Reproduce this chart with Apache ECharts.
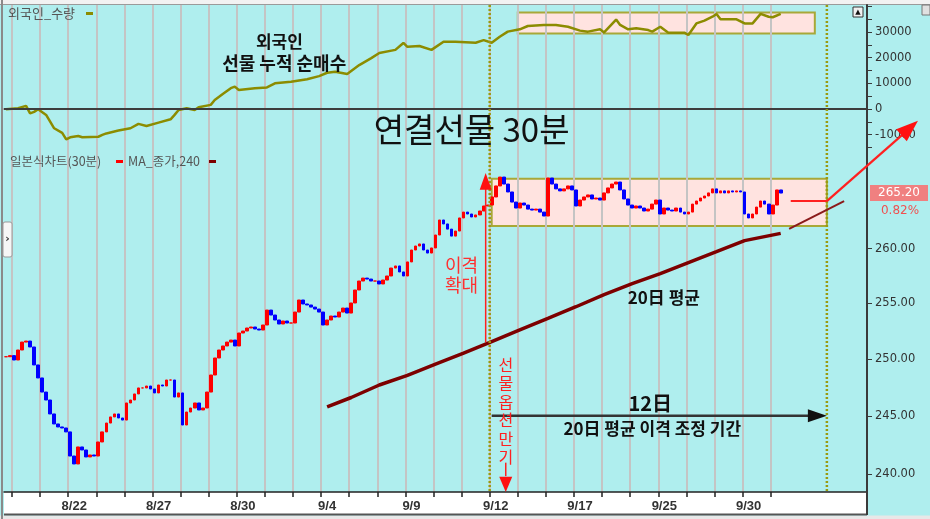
<!DOCTYPE html>
<html><head><meta charset="utf-8">
<script src="https://cdn.jsdelivr.net/npm/echarts/dist/echarts.min.js"></script>
<style>html,body{margin:0;padding:0;background:#afeeee}#c{width:930px;height:519px}</style>
</head><body><div id="c"></div>
<script>
// ---------- DATA ----------
const dayNames = ['8/19','8/20','8/21','8/22','8/23','8/26','8/27','8/28','8/29','8/30','9/2','9/3','9/4','9/5','9/6','9/9','9/10','9/11','9/12','9/13','9/16','9/17','9/18','9/19','9/25','9/26','9/27','9/30','10/1'];
const labeledDays = ['8/22','8/27','8/30','9/4','9/9','9/12','9/17','9/25','9/30'];
// 30-minute closes, grouped by day
const dayCloses = [
 [250.2,250.3],
 [249.91,250.80,251.51,251.60,251.07,249.47,248.32],
 [247.08,246.38,245.16,244.29,244.03,243.94,243.60],
 [241.52,240.84,242.30,242.04,241.44,241.61,241.52],
 [242.73,243.60,244.37,244.90,245.16,244.81,244.63],
 [246.12,246.38,246.91,247.44,247.44,247.61,247.35],
 [247.00,247.70,247.61,248.14,248.14,246.64,247.00],
 [244.20,245.33,245.68,246.12,245.51,245.68,247.08],
 [248.58,250.09,250.80,251.16,251.51,251.69,251.16],
 [252.32,252.50,252.77,252.86,252.68,252.59,253.04],
 [254.39,253.94,253.49,253.13,253.40,253.22,253.22],
 [254.21,255.30,254.94,254.85,254.66,254.48,254.21],
 [253.04,253.49,253.85,253.76,254.21,254.57,254.12],
 [255.03,256.21,257.03,257.30,257.21,257.03,257.03],
 [256.76,257.12,257.49,258.22,258.41,257.86,257.49],
 [258.78,259.88,260.25,260.44,259.88,259.60,260.07],
 [261.27,262.67,262.30,261.82,261.17,261.64,262.86],
 [263.41,263.23,262.95,263.14,263.51,263.98,264.07],
 [264.83,265.87,266.71,266.05,265.30,264.35,263.79],
 [264.26,264.07,263.69,263.60,263.69,263.41,263.04],
 [266.62,266.05,265.59,265.40,265.59,265.87,265.49],
 [263.98,264.54,264.83,265.02,264.64,264.73,264.54],
 [265.21,265.68,266.05,266.24,265.49,264.64,264.07],
 [263.79,263.98,263.79,263.51,263.69,264.16,264.54],
 [263.23,263.79,263.60,263.51,263.79,263.41,263.23],
 [263.41,264.16,264.45,264.73,264.92,265.21,265.59],
 [265.21,265.40,265.21,265.40,265.30,265.40,265.30],
 [263.23,262.86,263.23,263.88,264.45,264.16,263.23],
 [264.07,265.49,265.20]
];
const futureSlots = 17;
// MA_종가,240 (bar index, value)
const maBars   = [80,86,93,100,107,114,121,128,135,142,149,156,163,170,177,184,193];
const maValues = [245.77,246.60,247.70,248.55,249.54,250.52,251.55,252.61,253.64,254.69,255.78,256.79,257.71,258.72,259.73,260.75,261.42];
// 외국인 수량 (bar index, cumulative net)
const foreignBars = [0,3,5,6,7,8,10,12,14,15,16,18,19,23,24,25,28,31,33,35,38,41,42,43,45,47,48,51,52,54,56,57,58,62,65,67,71,75,78,80,82,85,88,91,93,97,99,100,103,106,109,112,117,119,121,123,125,128,130,134,137,140,143,145,148,149,152,153,155,157,160,161,163,165,169,170,172,174,176,177,178,182,184,186,188,190,191,193];
const foreignNet = [-100,300,1200,-1700,-1100,-100,-2300,-7500,-9300,-11800,-11000,-10500,-11000,-10800,-10100,-9500,-8400,-7500,-5800,-6600,-5300,-4000,-2300,-400,300,-400,700,1600,3500,5800,8100,8700,7400,8100,8400,10000,10600,11600,12800,14100,14500,13600,17100,19800,21800,23000,25700,24200,24500,23000,26200,26200,25800,26800,25800,28100,30100,31000,32300,32700,32700,32000,30500,30100,31000,29800,34800,32700,31000,31400,30700,30100,32000,29700,29700,28800,33300,34400,35900,37000,34900,34900,33300,33300,37000,35900,35700,37000];
const priceTicks = [240,245,250,255,260];
const foreignTicks = [-10000,0,10000,20000,30000];
const foreignMinorTicks = [-15000,-10000,-5000,0,5000,10000,15000,20000,25000,30000,35000,40000];
const lastPrice = 265.20, changeText = '0.82%';

// ---------- BUILD ----------
const categories = [], dayStart = [];
dayNames.forEach((n, d) => { dayStart.push(categories.length); const cnt = d === 0 ? 2 : 7; for (let b = 0; b < cnt; b++) categories.push(n + ' ' + (b + 1)); });
for (let k = 0; k < futureSlots; k++) categories.push('~ ' + (k + 1));
const boundaryOf = d => d === 0 ? 0 : 2 + 7 * (d - 1);
const tickSet = new Set(); for (let d = 1; d < dayNames.length; d++) tickSet.add(dayStart[d]);
const labelSet = new Set(); labeledDays.forEach(n => labelSet.add(dayStart[dayNames.indexOf(n)] + 1));
const closes = dayCloses.flat();
const candles = closes.map((c, i) => { const o = i ? closes[i - 1] : c; return [o, c, Math.min(o, c), Math.max(o, c)]; });

const Y0MIN = -15953, Y0MAX = 40467, Y1MIN = 238.45, Y1MAX = 269.29;
const AX = '#3a3a3a';
const splitL = { show: true, interval: (i) => tickSet.has(i), lineStyle: { color: '#c4c4c4', width: 2 } };

const chart = echarts.init(document.getElementById('c'));
chart.setOption({
  animation: false,
  backgroundColor: '#afeeee',
  grid: [
    { left: 4, right: 63, top: 5, height: 145 },
    { left: 4, right: 63, top: 150, height: 342 }
  ],
  xAxis: [
    { type: 'category', gridIndex: 0, data: categories, boundaryGap: true, z: 1,
      axisLine: { lineStyle: { color: '#a2a2a2', width: 2 } }, axisTick: { show: false }, axisLabel: { show: false }, splitLine: splitL },
    { type: 'category', gridIndex: 1, data: categories, boundaryGap: true, z: 1,
      axisLine: { lineStyle: { color: '#222', width: 1.5 } },
      axisTick: { show: true, interval: (i) => tickSet.has(i), length: 5, lineStyle: { color: '#222', width: 1.5 } },
      axisLabel: { interval: (i) => labelSet.has(i), formatter: v => v.split(' ')[0], color: '#333', fontSize: 13, fontWeight: 'bold', fontFamily: 'Liberation Sans', margin: 8 },
      splitLine: splitL }
  ],
  yAxis: [
    { type: 'value', gridIndex: 0, position: 'right', min: Y0MIN, max: Y0MAX, z: 1,
      axisLine: { show: true, lineStyle: { color: AX, width: 2 } },
      axisTick: { show: true, customValues: foreignMinorTicks, length: 5, lineStyle: { color: AX } },
      axisLabel: { customValues: foreignTicks, formatter: v => String(Math.round(v)), color: '#333', fontSize: 11.5, fontFamily: 'DejaVu Sans', margin: 8 },
      splitLine: { show: false } },
    { type: 'log', gridIndex: 1, position: 'right', min: Y1MIN, max: Y1MAX, z: 1,
      axisLine: { show: true, lineStyle: { color: AX, width: 2 } },
      axisTick: { show: true, customValues: priceTicks, length: 5, lineStyle: { color: AX } },
      axisLabel: { customValues: priceTicks, formatter: v => Number(v).toFixed(2), color: '#333', fontSize: 11.5, fontFamily: 'DejaVu Sans', margin: 8 },
      splitLine: { show: false } }
  ],
  series: [
    { type: 'line', xAxisIndex: 0, yAxisIndex: 0, data: foreignBars.map((b, i) => [b, foreignNet[i]]), showSymbol: false, z: 3,
      lineStyle: { color: '#8c8c00', width: 2.5 }, itemStyle: { color: '#8c8c00' },
      markLine: { silent: true, symbol: 'none', label: { show: false }, data: [{ yAxis: 0 }], lineStyle: { color: '#3c3c3c', width: 2, type: 'solid' } } },
    { type: 'candlestick', xAxisIndex: 1, yAxisIndex: 1, data: candles, barWidth: 3.2, z: 3,
      itemStyle: { color: '#ff0000', color0: '#0000ff', borderColor: '#ff0000', borderColor0: '#0000ff', borderWidth: 1 } },
    { type: 'line', xAxisIndex: 1, yAxisIndex: 1, data: maBars.map((b, i) => [b, maValues[i]]), showSymbol: false, z: 4,
      lineStyle: { color: '#7d0000', width: 3.5 }, itemStyle: { color: '#7d0000' } }
  ]
});

// ---------- ANNOTATIONS (positioned through the chart's scales) ----------
const P = (g, i, v) => chart.convertToPixel({ xAxisIndex: g, yAxisIndex: g }, [i, v]);
const band = P(1, 1, 250)[0] - P(1, 0, 250)[0];
const X = b => P(1, 0, 250)[0] - band / 2 + b * band;
const Yt = v => P(0, 0, v)[1];
const Yb = v => P(1, 0, v)[1];
const gx0 = X(0), gx1 = X(categories.length), gTop = Yt(Y0MAX), gBot = Yb(Y1MIN);
const KR = '"Noto Sans CJK KR", sans-serif';
const G = [];
const txt = (text, x, y, font, fill, extra) => G.push({ type: 'text', z: 20, style: Object.assign({ text, x, y, font, fill, textAlign: 'center', textVerticalAlign: 'middle' }, extra || {}) });
const line = (x1, y1, x2, y2, stroke, lw, dash, z) => G.push({ type: 'line', z: z || 15, shape: { x1, y1, x2, y2 }, style: { stroke, lineWidth: lw, lineDash: dash || null } });
const tri = (pts, fill) => G.push({ type: 'polygon', z: 16, shape: { points: pts }, style: { fill } });

// frame pieces
G.push({ type: 'rect', z: 0, shape: { x: 0, y: 0, width: 930, height: gTop - 1 }, style: { fill: '#f2f2f2' } });
line(0, gTop - 0.5, 930, gTop - 0.5, '#9a9a9a', 1, null, 1);
line(2, 0, 2, 519, '#8a8a8a', 2, null, 1);
G.push({ type: 'rect', z: 0, shape: { x: gx0, y: gBot, width: gx1 - gx0, height: 22 }, style: { fill: '#ffffff' } });
line(gx0, gBot + 22.5, gx1, gBot + 22.5, '#555', 2, null, 1);
G.push({ type: 'rect', z: 0, shape: { x: 0, y: gBot + 23.5, width: 930, height: 10 }, style: { fill: '#e8e8e8' } });
line(gx1, gTop, gx1, gBot + 23, AX, 2, null, 2);

// boxes
const boxStyle = { fill: '#ffe3e0', stroke: '#a8a838', lineWidth: 2 };
G.push({ type: 'rect', z: 0, shape: { x: X(boundaryOf(18)) + 2, y: Yb(266.55), width: X(boundaryOf(30)) - X(boundaryOf(18)) - 2, height: Yb(262.1) - Yb(266.55) }, style: boxStyle });
G.push({ type: 'rect', z: 0, shape: { x: X(128), y: Yt(37550), width: X(202) - X(128), height: Yt(29380) - Yt(37550) }, style: boxStyle });

// dotted verticals: expiry day and 12 days later
[boundaryOf(18), boundaryOf(30)].forEach(b => line(X(b), gTop, X(b), gBot, '#9a9a10', 2.5, [2, 2], 14));

// 이격 확대 up arrow
const ax = X(120);
line(ax, Yb(251.5), ax, Yb(265.6), '#ff2020', 1.5);
tri([[ax - 6, Yb(265.5)], [ax + 6, Yb(265.5)], [ax, Yb(267.1)]], '#ff1010');
txt('이격\n확대', X(114), Yb(257.6), '18px ' + KR, '#ff3030', { lineHeight: 20 });

// 선물옵션만기 vertical text + down arrow
const vx = X(125);
txt('선물옵션만기'.split('').join('\n'), vx, Yb(250.3), '16px ' + KR, '#ff2020', { lineHeight: 18.5, textVerticalAlign: 'top' });
line(vx, Yb(240.95), vx, Yb(239.8), '#ff2020', 1.5);
tri([[vx - 6.5, Yb(239.75)], [vx + 6.5, Yb(239.75)], [vx, gBot]], '#ff1010');

// 12日 horizontal arrow
const hy = Yb(245), hx1 = X(boundaryOf(18)) + 2, hx2 = X(boundaryOf(30));
line(hx1, hy, hx2 - 16, hy, '#333', 2.5);
tri([[hx2 - 19, hy - 6.5], [hx2 - 19, hy + 6.5], [hx2, hy]], '#111');
txt('12日', X(161), Yb(246.05), 'bold 20px ' + KR, '#111');
txt('20日 평균 이격 조정 기간', X(161.5), Yb(243.85), 'bold 17px ' + KR, '#111');
txt('20日 평균', X(164.4), Yb(255.5), 'bold 17px ' + KR, '#111');

// extension & target arrows on the right
line(X(195.6), Yb(261.85), X(209.3), Yb(264.44), '#8b1a1a', 2);
const ry = Yb(264.44), rx = X(boundaryOf(30));
line(X(196), ry, rx, ry, '#ff2020', 2);
const tx = X(227.7), ty = Yb(272.1);
line(rx, ry, tx - 10, ty + 9, '#ff2020', 2.2);
(function () { const dx = tx - rx, dy = ty - ry, L = Math.hypot(dx, dy), ux = dx / L, uy = dy / L, bxp = tx - ux * 22, byp = ty - uy * 22;
  tri([[tx, ty], [bxp - uy * 8, byp + ux * 8], [bxp + uy * 8, byp - ux * 8]], '#ff1010'); })();

// top panel texts
txt('외국인', X(68.6), Yt(26070), 'bold 17px ' + KR, '#111');
txt('선물 누적 순매수', X(69.8), Yt(17900), 'bold 18px ' + KR, '#111');
txt('연결선물 30분', X(116.5), Yt(-7780), '33px ' + KR, '#111');

// legends
G.push({ type: 'text', z: 20, style: { text: '외국인_수량', x: 8, y: 13, font: '13px ' + KR, fill: '#555', textVerticalAlign: 'middle' } });
G.push({ type: 'rect', z: 20, shape: { x: 86, y: 12, width: 7, height: 3 }, style: { fill: '#8c8c00' } });
G.push({ type: 'text', z: 20, style: { text: '일본식차트(30분)', x: 10, y: 161, font: '12.5px ' + KR, fill: '#555', textVerticalAlign: 'middle' } });
G.push({ type: 'rect', z: 20, shape: { x: 116, y: 160, width: 7, height: 3 }, style: { fill: '#ff0000' } });
G.push({ type: 'text', z: 20, style: { text: 'MA_종가,240', x: 128, y: 161, font: '12.5px ' + KR, fill: '#555', textVerticalAlign: 'middle' } });
G.push({ type: 'rect', z: 20, shape: { x: 209, y: 160, width: 7, height: 3 }, style: { fill: '#7d0000' } });

// price tag
const py = Yb(lastPrice);
G.push({ type: 'rect', z: 20, shape: { x: 870, y: py - 8, width: 58, height: 16 }, style: { fill: '#f08080' } });
txt(lastPrice.toFixed(2), 899, py, '12px "DejaVu Sans"', '#ffffff');
txt(changeText, 900, py + 18, '12px "DejaVu Sans"', '#f05050');

// small UI buttons
G.push({ type: 'rect', z: 20, shape: { x: 3, y: 222, width: 9, height: 35, r: 2 }, style: { fill: '#f6f6f6', stroke: '#999', lineWidth: 1 } });
txt('›', 7.5, 239, 'bold 11px "DejaVu Sans"', '#333');
G.push({ type: 'rect', z: 20, shape: { x: 853, y: 7, width: 10, height: 10 }, style: { fill: '#f0f0f0', stroke: '#333', lineWidth: 1 } });
txt('▲', 858, 12, '7px "DejaVu Sans"', '#111');
G.push({ type: 'rect', z: 20, shape: { x: 922, y: 5, width: 8, height: 10 }, style: { fill: '#e0e0e0', stroke: '#777', lineWidth: 1 } });

chart.setOption({ graphic: G });
</script></body></html>
